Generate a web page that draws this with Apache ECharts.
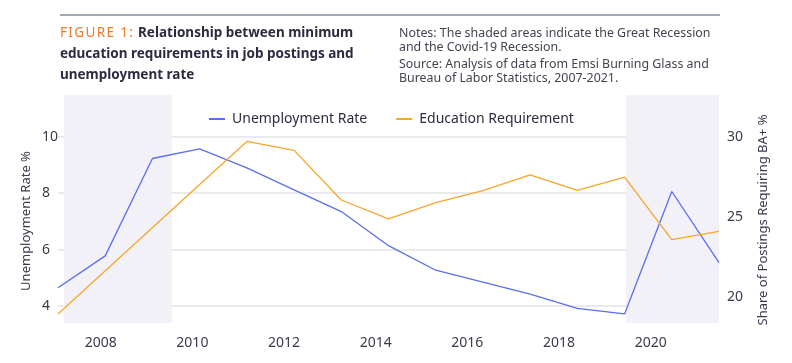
<!DOCTYPE html>
<html>
<head>
<meta charset="utf-8">
<script src="https://cdn.jsdelivr.net/npm/echarts@6/dist/echarts.min.js"></script>
<style>
html,body{margin:0;padding:0;background:#fff;}
#chart{width:792px;height:363px;}
</style>
</head>
<body>
<div id="chart"></div>
<script>
// ---- data ----
const years = ['2007','2008','2009','2010','2011','2012','2013','2014','2015','2016','2017','2018','2019','2020','2021'];
const unemploymentRate = [4.65, 5.78, 9.23, 9.57, 8.9, 8.12, 7.35, 6.14, 5.27, 4.85, 4.42, 3.92, 3.72, 8.06, 5.54];
const educationRequirement = [18.96, null, null, 27.03, 29.71, 29.15, 26.06, 24.89, 25.89, 26.64, 27.62, 26.66, 27.49, 23.59, 24.11];
const yearTicks = [2008, 2010, 2012, 2014, 2016, 2018, 2020];
const leftTicks = [4, 6, 8, 10];
const rightTicks = [20, 25, 30];
const recessions = [[2007.2, 2009.55], [2019.46, 2021.57]];

const FONT = 'Noto Sans';
const TXT = '#3b3a4c';
const BLUE = '#5a6ef0';
const ORANGE = '#f8a52c';

const chart = echarts.init(document.getElementById('chart'), null, {renderer: 'canvas'});
chart.setOption({
  animation: false,
  backgroundColor: '#fff',
  textStyle: {fontFamily: FONT},
  grid: {left: 58, right: 73, top: 95, bottom: 40, containLabel: false},
  legend: {
    left: 209, top: 112, padding: 0,
    icon: 'rect', itemWidth: 16, itemHeight: 2, itemGap: 29,
    textStyle: {fontFamily: FONT, fontSize: 14, color: '#2f2b40', padding: [0,0,0,2]},
    data: ['Unemployment Rate', 'Education Requirement']
  },
  xAxis: [
    {type: 'category', data: years, boundaryGap: false, show: false},
    {
      type: 'value', position: 'bottom', min: 2007.068, max: 2021.491, splitNumber: 7,
      axisLine: {show: false}, axisTick: {show: false}, splitLine: {show: false},
      axisLabel: {
        showMinLabel: false, showMaxLabel: false, margin: 13,
        fontFamily: FONT, fontSize: 14, color: TXT,
        formatter: v => yearTicks.includes(Math.round(v * 1000) / 1000) ? String(v) : ''
      }
    }
  ],
  yAxis: [
    {
      type: 'value', min: 3.4, max: 11.48, splitNumber: 4,
      axisLine: {show: false}, axisTick: {show: false},
      splitLine: {show: true, showMinLine: false, showMaxLine: false, lineStyle: {color: '#e3e3e6', width: 1.5}},
      axisLabel: {
        showMinLabel: false, showMaxLabel: false, align: 'left', margin: 16,
        fontFamily: FONT, fontSize: 14, color: TXT,
        formatter: v => leftTicks.includes(Math.round(v * 1000) / 1000) ? String(v) : ''
      }
    },
    {
      type: 'value', min: 18.4, max: 32.6, splitNumber: 3, position: 'right',
      axisLine: {show: false}, axisTick: {show: false}, splitLine: {show: false},
      axisLabel: {
        showMinLabel: false, showMaxLabel: false, align: 'left', margin: 8,
        fontFamily: FONT, fontSize: 14, color: TXT,
        formatter: v => rightTicks.includes(Math.round(v * 1000) / 1000) ? String(v) : ''
      }
    }
  ],
  series: [
    {
      name: 'shade', type: 'line', xAxisIndex: 1, yAxisIndex: 0, data: [], clip: false,
      silent: true, z: 0,
      markArea: {
        silent: true,
        itemStyle: {color: '#f2f1f8'},
        data: recessions.map(r => [{xAxis: r[0]}, {xAxis: r[1]}])
      }
    },
    {
      name: 'Unemployment Rate', type: 'line', xAxisIndex: 0, yAxisIndex: 0,
      data: unemploymentRate, showSymbol: false, symbol: 'none',
      lineStyle: {color: BLUE, width: 1.3}, itemStyle: {color: BLUE}, z: 3
    },
    {
      name: 'Education Requirement', type: 'line', xAxisIndex: 0, yAxisIndex: 1,
      data: educationRequirement, connectNulls: true, showSymbol: false, symbol: 'none',
      lineStyle: {color: ORANGE, width: 1.3}, itemStyle: {color: ORANGE}, z: 3
    }
  ],
  graphic: [
    {type: 'line', shape: {x1: 60, y1: 15, x2: 720, y2: 15}, style: {stroke: '#7f8e9a', lineWidth: 1.5}},
    {type: 'text', left: 60, top: 26, style: {text: 'F\u200aI\u200aG\u200aU\u200aR\u200aE\u200a \u200a1\u200a:', fontFamily: FONT, fontSize: 13.5, fill: '#ec7a2c'}},
    {type: 'text', left: 138, top: 26, style: {text: 'Relationship between minimum', fontFamily: FONT, fontSize: 13.5, fontWeight: 'bold', fill: '#2e2a40'}},
    {type: 'text', left: 60, top: 47, style: {text: 'education requirements in job postings and', fontFamily: FONT, fontSize: 13.5, fontWeight: 'bold', fill: '#2e2a40'}},
    {type: 'text', left: 60, top: 68, style: {text: 'unemployment rate', fontFamily: FONT, fontSize: 13.5, fontWeight: 'bold', fill: '#2e2a40'}},
    {type: 'text', left: 399, top: 26, style: {text: 'Notes: The shaded areas indicate the Great Recession\nand the Covid-19 Recession.', fontFamily: FONT, fontSize: 12.4, lineHeight: 14.5, fill: '#444450'}},
    {type: 'text', left: 399, top: 57, style: {text: 'Source: Analysis of data from Emsi Burning Glass and\nBureau of Labor Statistics, 2007-2021.', fontFamily: FONT, fontSize: 12.4, lineHeight: 14.5, fill: '#444450'}},
    {type: 'text', x: 26, y: 221, rotation: Math.PI / 2, style: {text: 'Unemployment Rate %', fontFamily: FONT, fontSize: 13, fill: TXT, align: 'center', verticalAlign: 'middle'}},
    {type: 'text', x: 763, y: 220, rotation: Math.PI / 2, style: {text: 'Share of Postings Requiring BA+ %', fontFamily: FONT, fontSize: 13, fill: TXT, align: 'center', verticalAlign: 'middle'}}
  ]
});
</script>
</body>
</html>
